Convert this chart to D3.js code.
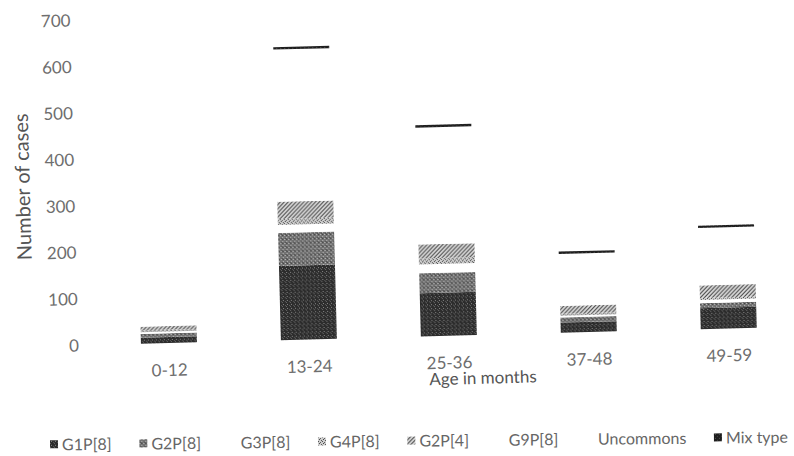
<!DOCTYPE html>
<html>
<head>
<meta charset="utf-8">
<script src="https://cdn.jsdelivr.net/npm/d3@7"></script>
<style>
  body { margin: 0; background: #fff; }
  svg { display: block; font-family: Lato, "Open Sans", sans-serif; }
</style>
</head>
<body>
<div id="chart-container"><svg></svg></div>
<script>
const ageGroups = ["0-12", "13-24", "25-36", "37-48", "49-59"];
const genotypes = ["G1P[8]", "G2P[8]", "G3P[8]", "G4P[8]", "G2P[4]", "G9P[8]", "Uncommons", "Mix type"];
const g1p8 = [13, 160, 93, 22, 45];
const g2p8 = [8, 71, 43, 11, 11];
const g3p8 = [4, 17, 19, 4, 7];
const g4p8 = [4, 13, 13, 4, 4];
const g2p4 = [8, 37, 30, 17, 27];
const g9p8 = [55, 290, 225, 100, 105];
const uncommons = [10, 38, 27, 12, 19];
const mixType = [0, 5, 5, 5, 5];
const yTicks = [0, 100, 200, 300, 400, 500, 600, 700];

(() => {
    const width = 794;
    const height = 456;
    const series = [g1p8, g2p8, g3p8, g4p8, g2p4, g9p8, uncommons, mixType];

    const data = ageGroups.map((age, i) => {
        const row = { age };
        genotypes.forEach((g, k) => row[g] = series[k][i]);
        return row;
    });

    const svg = d3.select("#chart-container > svg")
        .attr("width", width)
        .attr("height", height);

    // scanned look: grainy greys and hatching
    const defs = svg.append("defs");
    function dotPattern(id, bg, dots) {
        const p = defs.append("pattern").attr("id", id)
            .attr("width", 4).attr("height", 4).attr("patternUnits", "userSpaceOnUse");
        p.append("rect").attr("width", 4).attr("height", 4).attr("fill", bg);
        dots.forEach(([x, y, c]) => p.append("rect").attr("x", x).attr("y", y)
            .attr("width", 1).attr("height", 1).attr("fill", c));
    }
    dotPattern("p-g1", "#2c2c2c", [[1, 1, "#8a8a8a"], [3, 2, "#5c5c5c"], [0, 3, "#6a6a6a"]]);
    dotPattern("p-g2", "#727272", [[0, 0, "#c4c4c4"], [2, 2, "#bdbdbd"], [2, 0, "#3c3c3c"], [1, 3, "#4a4a4a"]]);
    dotPattern("p-g4", "#cfcfcf", [[0, 0, "#4a4a4a"], [2, 1, "#5a5a5a"], [1, 2, "#444"], [3, 3, "#555"]]);
    dotPattern("p-mix", "#1e1e1e", [[1, 1, "#555"], [3, 3, "#444"]]);
    const hatch = defs.append("pattern").attr("id", "p-g2p4")
        .attr("width", 4).attr("height", 4).attr("patternUnits", "userSpaceOnUse");
    hatch.append("rect").attr("width", 4).attr("height", 4).attr("fill", "#e6e6e6");
    hatch.append("path").attr("d", "M-1,1 l2,-2 M0,4 l4,-4 M3,5 l2,-2")
        .attr("stroke", "#3a3a3a").attr("stroke-width", 1.1);

    const fills = {
        "G1P[8]": "url(#p-g1)",
        "G2P[8]": "url(#p-g2)",
        "G3P[8]": "#fff",
        "G4P[8]": "url(#p-g4)",
        "G2P[4]": "url(#p-g2p4)",
        "G9P[8]": "#fff",
        "Uncommons": "#fff",
        "Mix type": "url(#p-mix)"
    };

    const x = d3.scaleBand().domain(ageGroups).range([96, 796])
        .paddingInner(0.6).paddingOuter(0.3);
    const y = d3.scaleLinear().domain([0, 700]).range([337, 12]);

    const stacked = d3.stack().keys(genotypes)(data);

    // the page was scanned slightly tilted
    const gChart = svg.append("g").attr("transform", "rotate(-1.5,400,228)");

    gChart.append("g")
        .selectAll("g")
        .data(stacked)
        .join("g")
        .attr("fill", d => fills[d.key])
        .selectAll("rect")
        .data(d => d)
        .join("rect")
        .attr("x", d => x(d.data.age))
        .attr("y", d => y(d[1]))
        .attr("height", d => y(d[0]) - y(d[1]))
        .attr("width", x.bandwidth());

    const yAxis = gChart.append("g")
        .attr("transform", "translate(76,0)")
        .call(d3.axisLeft(y).tickValues(yTicks).tickSize(0).tickPadding(0));
    yAxis.select(".domain").remove();
    yAxis.selectAll("text").attr("font-size", 17).attr("fill", "#6e6e6e")
        .attr("font-family", "Lato, sans-serif");

    const xAxis = gChart.append("g")
        .attr("transform", "translate(0,364)")
        .call(d3.axisBottom(x).tickSize(0).tickPadding(0));
    xAxis.select(".domain").remove();
    xAxis.selectAll("text").attr("dy", "0.35em").attr("font-size", 17).attr("fill", "#6e6e6e")
        .attr("font-family", "Lato, sans-serif");

    gChart.append("text")
        .attr("transform", "translate(24,177) rotate(-90)")
        .attr("text-anchor", "middle")
        .attr("dy", "0.35em")
        .attr("font-size", 20)
        .attr("fill", "#555")
        .text("Number of cases");

    gChart.append("text")
        .attr("x", 479)
        .attr("y", 380)
        .attr("text-anchor", "middle")
        .attr("dy", "0.35em")
        .attr("font-size", 17)
        .attr("fill", "#555")
        .text("Age in months");

    // legend, spread between the measured left and right ends
    const gLegend = svg.append("g").attr("transform", "rotate(-0.6,420,441)");
    const item = gLegend.selectAll("g").data(genotypes).join("g");
    item.append("rect")
        .attr("y", 441 - 4.5).attr("width", 8).attr("height", 8)
        .attr("fill", d => fills[d]);
    item.append("text")
        .attr("x", 12).attr("y", 441).attr("dy", "0.35em")
        .attr("font-size", 16).attr("fill", "#666")
        .text(d => d);

    const widths = item.nodes().map(n => 12 + n.querySelector("text").getComputedTextLength());
    const left = 50, right = 788;
    const gap = (right - left - d3.sum(widths)) / (widths.length - 1);
    let pos = left;
    item.attr("transform", (d, i) => {
        const t = `translate(${pos},0)`;
        pos += widths[i] + gap;
        return t;
    });
})();
</script>
</body>
</html>
